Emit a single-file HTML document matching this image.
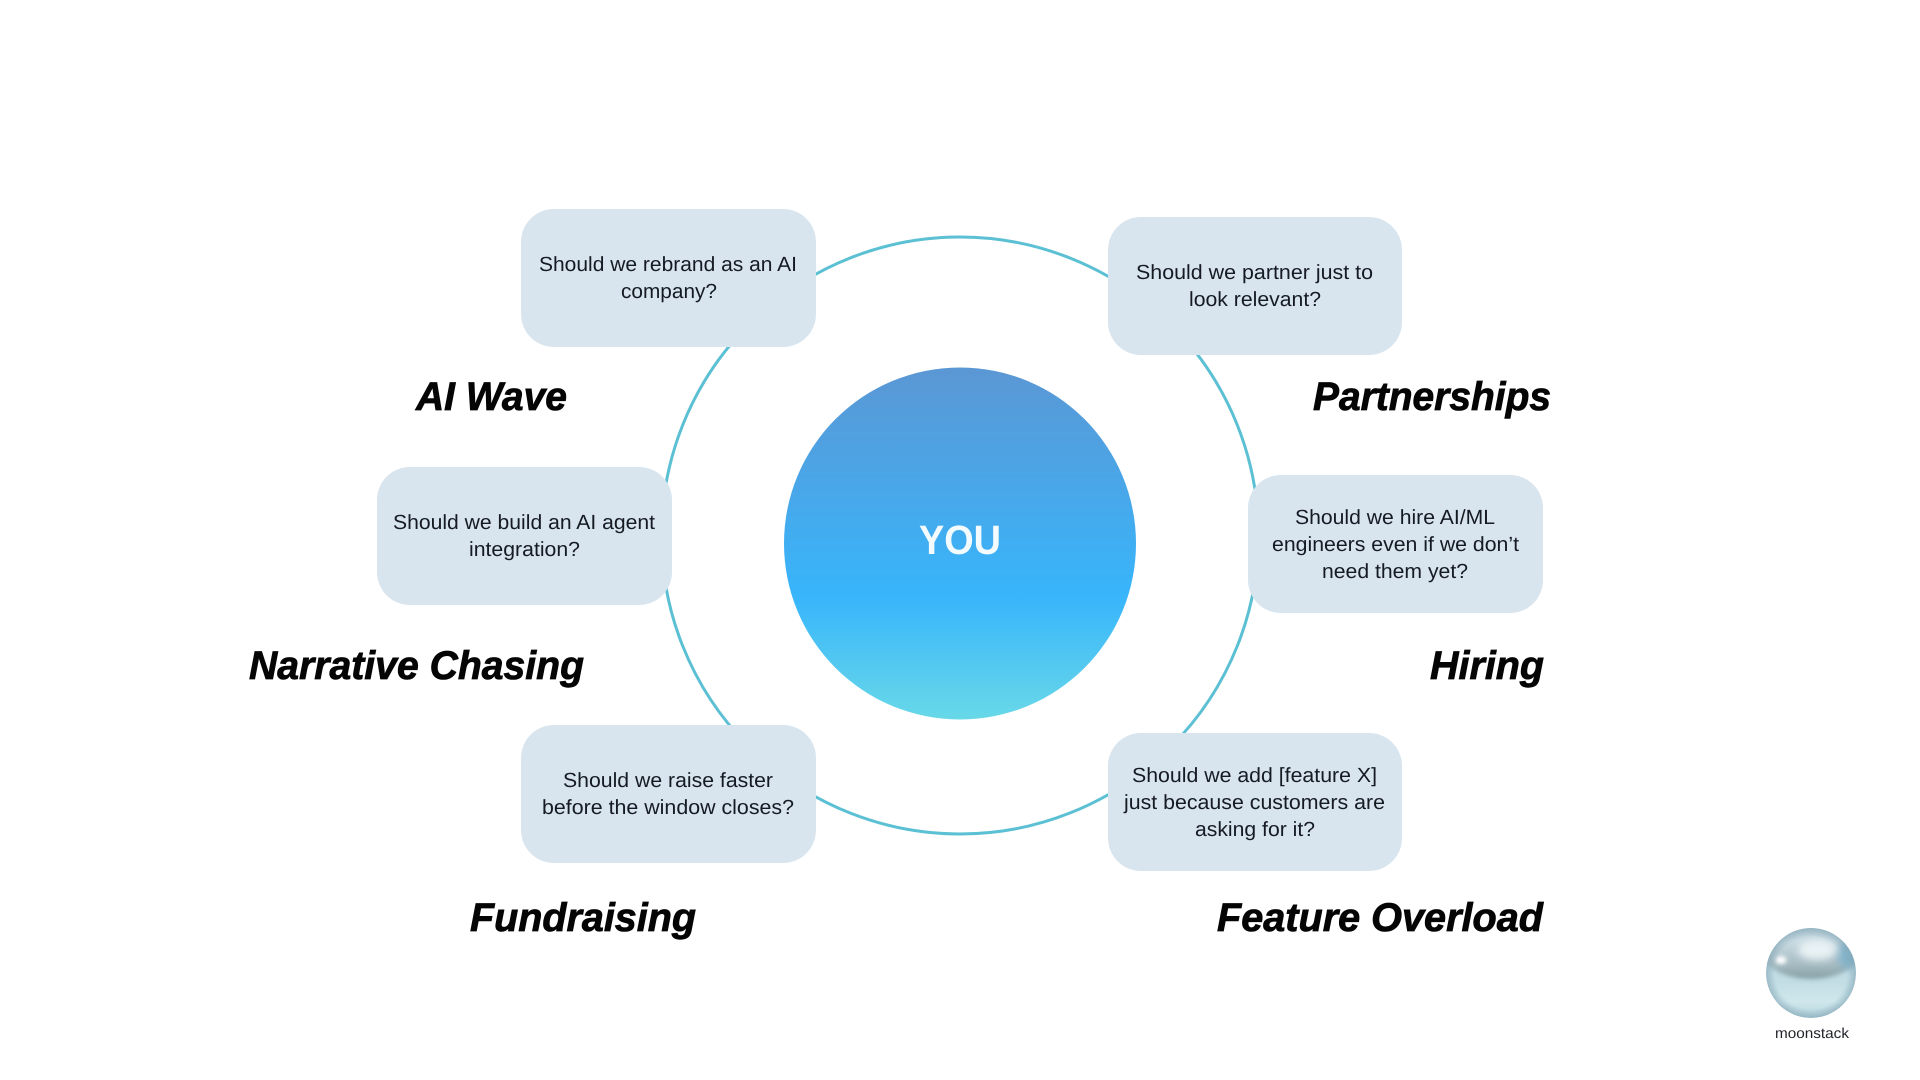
<!DOCTYPE html>
<html lang="en">
<head>
<meta charset="utf-8">
<title>YOU diagram</title>
<style>
html,body{margin:0;padding:0;background:#fff;width:1920px;height:1080px;overflow:hidden}
svg{display:block;text-rendering:geometricPrecision}
.q{font-family:"Liberation Sans",sans-serif;font-size:20.5px;fill:#151a23}
.h{font-family:"Liberation Sans",sans-serif;font-size:40px;font-weight:700;font-style:italic;fill:#050505;stroke:#050505;stroke-width:.8px}
.box{fill:#d8e5ef}
</style>
</head>
<body>
<svg width="1920" height="1080" viewBox="0 0 1920 1080" xmlns="http://www.w3.org/2000/svg">
<defs>
<linearGradient id="you" x1="0" y1="0" x2="0" y2="1">
<stop offset="0" stop-color="#5b97d4"/>
<stop offset=".65" stop-color="#38b5fb"/>
<stop offset="1" stop-color="#68d8e8"/>
</linearGradient>
<linearGradient id="pearl" x1="0" y1="0" x2="0" y2="1">
<stop offset="0" stop-color="#c4dde5"/>
<stop offset=".6" stop-color="#c2dde4"/>
<stop offset=".82" stop-color="#cfe7ec"/>
<stop offset="1" stop-color="#b4d2dc"/>
</linearGradient>
<linearGradient id="pearlTop" x1="0" y1="0" x2="0" y2="1">
<stop offset="0" stop-color="#b0c8d4"/>
<stop offset=".35" stop-color="#c9dbe3"/>
<stop offset=".75" stop-color="#a7bcc3"/>
<stop offset="1" stop-color="#84a0a5"/>
</linearGradient>
<radialGradient id="pearlEdge" cx=".5" cy=".5" r=".5">
<stop offset=".8" stop-color="#7fa3b3" stop-opacity="0"/>
<stop offset="1" stop-color="#7fa3b3" stop-opacity=".6"/>
</radialGradient>
<filter id="b4" x="-60%" y="-60%" width="220%" height="220%"><feGaussianBlur stdDeviation="4"/></filter>
<filter id="b2" x="-80%" y="-80%" width="260%" height="260%"><feGaussianBlur stdDeviation="2.2"/></filter>
<clipPath id="pc"><circle cx="1811" cy="973" r="45"/></clipPath>
</defs>

<rect width="1920" height="1080" fill="#fff"/>

<circle cx="960" cy="535.5" r="298.5" fill="none" stroke="#5bc0d3" stroke-width="3"/>
<circle cx="960" cy="543.5" r="176" fill="url(#you)"/>
<text x="919" y="554" textLength="82" lengthAdjust="spacingAndGlyphs" font-family="'Liberation Sans',sans-serif" font-size="41" font-weight="700" fill="#f4fbff">YOU</text>

<rect class="box" x="521" y="209" width="295" height="138" rx="33"/>
<rect class="box" x="1108" y="217" width="294" height="138" rx="33"/>
<rect class="box" x="377" y="467" width="295" height="138" rx="33"/>
<rect class="box" x="1248" y="475" width="295" height="138" rx="33"/>
<rect class="box" x="521" y="725" width="295" height="138" rx="33"/>
<rect class="box" x="1108" y="733" width="294" height="138" rx="33"/>

<text class="q" x="539" y="271" textLength="258" lengthAdjust="spacingAndGlyphs">Should we rebrand as an AI</text>
<text class="q" x="621" y="298" textLength="96" lengthAdjust="spacingAndGlyphs">company?</text>

<text class="q" x="1136" y="279" textLength="237" lengthAdjust="spacingAndGlyphs">Should we partner just to</text>
<text class="q" x="1189" y="306" textLength="132" lengthAdjust="spacingAndGlyphs">look relevant?</text>

<text class="q" x="393" y="529" textLength="262" lengthAdjust="spacingAndGlyphs">Should we build an AI agent</text>
<text class="q" x="469" y="556" textLength="111" lengthAdjust="spacingAndGlyphs">integration?</text>

<text class="q" x="1295" y="524" textLength="200" lengthAdjust="spacingAndGlyphs">Should we hire AI/ML</text>
<text class="q" x="1272" y="551" textLength="247" lengthAdjust="spacingAndGlyphs">engineers even if we don’t</text>
<text class="q" x="1322" y="578" textLength="146" lengthAdjust="spacingAndGlyphs">need them yet?</text>

<text class="q" x="563" y="787" textLength="210" lengthAdjust="spacingAndGlyphs">Should we raise faster</text>
<text class="q" x="542" y="814" textLength="252" lengthAdjust="spacingAndGlyphs">before the window closes?</text>

<text class="q" x="1132" y="782" textLength="245" lengthAdjust="spacingAndGlyphs">Should we add [feature X]</text>
<text class="q" x="1124" y="809" textLength="261" lengthAdjust="spacingAndGlyphs">just because customers are</text>
<text class="q" x="1195" y="836" textLength="120" lengthAdjust="spacingAndGlyphs">asking for it?</text>

<text class="h" x="416" y="410" textLength="151" lengthAdjust="spacingAndGlyphs">AI Wave</text>
<text class="h" x="1313" y="410" textLength="238" lengthAdjust="spacingAndGlyphs">Partnerships</text>
<text class="h" x="249" y="679" textLength="335" lengthAdjust="spacingAndGlyphs">Narrative Chasing</text>
<text class="h" x="1430" y="679" textLength="114" lengthAdjust="spacingAndGlyphs">Hiring</text>
<text class="h" x="470" y="931" textLength="226" lengthAdjust="spacingAndGlyphs">Fundraising</text>
<text class="h" x="1217" y="931" textLength="326" lengthAdjust="spacingAndGlyphs">Feature Overload</text>

<g clip-path="url(#pc)">
<circle cx="1811" cy="973" r="45" fill="url(#pearl)"/>
<ellipse cx="1811" cy="950" rx="50" ry="29" fill="url(#pearlTop)" filter="url(#b2)"/>
<ellipse cx="1848" cy="955" rx="10" ry="14" fill="#74aeca" opacity=".75" filter="url(#b4)"/>
<ellipse cx="1817" cy="950" rx="19" ry="10" fill="#eef6f8" opacity=".9" filter="url(#b4)"/>
<ellipse cx="1781" cy="960" rx="5.5" ry="4" fill="#ffffff" filter="url(#b2)"/>
<circle cx="1811" cy="973" r="45" fill="url(#pearlEdge)"/>
</g>
<text x="1775" y="1038" textLength="74" lengthAdjust="spacingAndGlyphs" font-family="'Liberation Sans',sans-serif" font-size="14.5" fill="#1f2228">moonstack</text>
</svg>
</body>
</html>
